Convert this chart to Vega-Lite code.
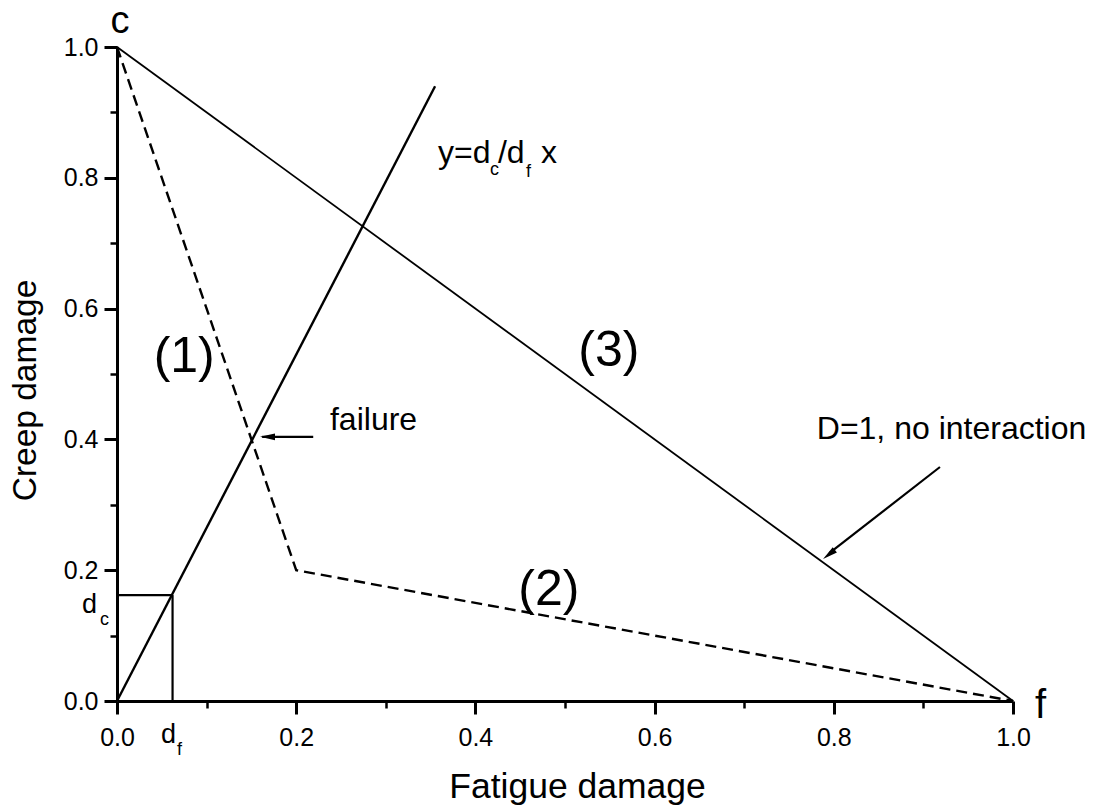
{
  "$schema": "https://vega.github.io/schema/vega-lite/v6.json",
  "width": 896,
  "height": 654,
  "autosize": {"type": "none"},
  "padding": {"left": 117, "top": 47, "right": 82, "bottom": 104},
  "background": "white",
  "config": {
    "view": {"stroke": null},
    "font": "Liberation Sans",
    "axis": {
      "grid": false,
      "domainColor": "black",
      "domainWidth": 3,
      "tickColor": "black",
      "tickWidth": 2.5,
      "labelColor": "black",
      "labelFont": "Liberation Sans",
      "labelFontSize": 25,
      "labelFlush": false,
      "labelOverlap": false,
      "titleColor": "black",
      "titleFont": "Liberation Sans",
      "titleFontSize": 34,
      "titleFontWeight": "normal"
    }
  },
  "resolve": {"axis": {"x": "independent", "y": "independent"}},
  "layer": [
    {
      "encoding": {
        "x": {
          "field": "x",
          "type": "quantitative",
          "scale": {"domain": [0, 1], "nice": false, "zero": false},
          "axis": {
            "title": "Fatigue damage",
            "orient": "bottom",
            "values": [0, 0.2, 0.4, 0.6, 0.8, 1.0],
            "format": ".1f",
            "ticks": false,
            "tickSize": 0,
            "labelPadding": 24,
            "titleFontSize": 35.5,
            "titleBaseline": "alphabetic",
            "titleX": 460,
            "titleY": 96
          }
        },
        "y": {
          "field": "y",
          "type": "quantitative",
          "scale": {"domain": [0, 1], "nice": false, "zero": false},
          "axis": {
            "title": "Creep damage",
            "orient": "left",
            "values": [0, 0.2, 0.4, 0.6, 0.8, 1.0],
            "format": ".1f",
            "ticks": false,
            "tickSize": 0,
            "labelPadding": 19,
            "titleFontSize": 33.5,
            "titleBaseline": "alphabetic",
            "titleX": -82,
            "titleY": 343
          }
        }
      },
      "layer": [
        {
          "description": "Linear damage rule D = 1 (no interaction)",
          "data": {"values": [{"x": 0, "y": 1, "x2": 1, "y2": 0}]},
          "mark": {"type": "rule", "color": "black", "strokeWidth": 1.8},
          "encoding": {"x2": {"field": "x2"}, "y2": {"field": "y2"}}
        },
        {
          "description": "Bilinear interaction envelope",
          "data": {"values": [{"x": 0, "y": 1}, {"x": 0.2, "y": 0.2}, {"x": 1, "y": 0}]},
          "mark": {"type": "line", "color": "black", "strokeWidth": 2.4, "strokeDash": [11, 6]},
          "encoding": {}
        },
        {
          "description": "Loading path y = dc/df x",
          "data": {"values": [{"x": 0, "y": 0, "x2": 0.355, "y2": 0.94}]},
          "mark": {"type": "rule", "color": "black", "strokeWidth": 2.4},
          "encoding": {"x2": {"field": "x2"}, "y2": {"field": "y2"}}
        },
        {
          "description": "Damage per cycle box (df, dc)",
          "data": {"values": [
            {"x": 0, "y": 0.162, "x2": 0.062, "y2": 0.162},
            {"x": 0.062, "y": 0, "x2": 0.062, "y2": 0.162}
          ]},
          "mark": {"type": "rule", "color": "black", "strokeWidth": 2.2},
          "encoding": {"x2": {"field": "x2"}, "y2": {"field": "y2"}}
        },
        {
          "description": "Arrow shafts",
          "data": {"values": [
            {"x": 0.219, "y": 0.404, "x2": 0.162, "y2": 0.404},
            {"x": 0.9185, "y": 0.3578, "x2": 0.795, "y2": 0.226}
          ]},
          "mark": {"type": "rule", "color": "black", "strokeWidth": 2.2},
          "encoding": {"x2": {"field": "x2"}, "y2": {"field": "y2"}}
        },
        {
          "description": "Arrowhead at the failure point",
          "data": {"values": [{"x": 0.1596, "y": 0.404}]},
          "mark": {"type": "point", "shape": "M0,0L0.45,2L-0.45,2Z", "filled": true, "color": "black", "opacity": 1, "size": 225, "angle": 270},
          "encoding": {}
        },
        {
          "description": "Arrowhead on the D = 1 line",
          "data": {"values": [{"x": 0.788, "y": 0.217}]},
          "mark": {"type": "point", "shape": "M0,0L0.45,2L-0.45,2Z", "filled": true, "color": "black", "opacity": 1, "size": 225, "angle": 231.8},
          "encoding": {}
        },
        {
          "description": "Annotations",
          "data": {"values": [
            {"x": 0.2377, "y": 0.4144, "label": "failure"},
            {"x": 0.781, "y": 0.4006, "label": "D=1, no interaction"},
            {"x": 0.3583, "y": 0.8226, "label": "y=d"},
            {"x": 0.4252, "y": 0.8226, "label": "/d"},
            {"x": 0.4732, "y": 0.8226, "label": "x"}
          ]},
          "mark": {"type": "text", "align": "left", "baseline": "alphabetic", "fontSize": 32, "font": "Liberation Sans", "color": "black"},
          "encoding": {"text": {"field": "label"}}
        },
        {
          "description": "Subscripts in the slope label",
          "data": {"values": [
            {"x": 0.4163, "y": 0.8043, "label": "c"},
            {"x": 0.4565, "y": 0.8012, "label": "f"}
          ]},
          "mark": {"type": "text", "align": "left", "baseline": "alphabetic", "fontSize": 18, "font": "Liberation Sans", "color": "black"},
          "encoding": {"text": {"field": "label"}}
        },
        {
          "description": "dc and df markers on the axes",
          "data": {"values": [
            {"x": -0.039, "y": 0.1346, "label": "d"},
            {"x": 0.049, "y": -0.0642, "label": "d"}
          ]},
          "mark": {"type": "text", "align": "left", "baseline": "alphabetic", "fontSize": 27, "font": "Liberation Sans", "color": "black"},
          "encoding": {"text": {"field": "label"}}
        },
        {
          "description": "Subscripts of the axis markers",
          "data": {"values": [
            {"x": -0.019, "y": 0.1162, "label": "c"},
            {"x": 0.067, "y": -0.0826, "label": "f"}
          ]},
          "mark": {"type": "text", "align": "left", "baseline": "alphabetic", "fontSize": 18, "font": "Liberation Sans", "color": "black"},
          "encoding": {"text": {"field": "label"}}
        },
        {
          "description": "Region labels",
          "data": {"values": [
            {"x": 0.075, "y": 0.526, "label": "(1)"},
            {"x": 0.482, "y": 0.17, "label": "(2)"},
            {"x": 0.549, "y": 0.535, "label": "(3)"}
          ]},
          "mark": {"type": "text", "align": "center", "baseline": "middle", "fontSize": 50, "font": "Liberation Sans", "color": "black"},
          "encoding": {"text": {"field": "label"}}
        },
        {
          "description": "Pure creep end point",
          "data": {"values": [{"x": 0.0033, "y": 1.0214, "label": "c"}]},
          "mark": {"type": "text", "align": "center", "baseline": "alphabetic", "fontSize": 38, "font": "Liberation Sans", "color": "black"},
          "encoding": {"text": {"field": "label"}}
        },
        {
          "description": "Pure fatigue end point",
          "data": {"values": [{"x": 1.0246, "y": -0.026, "label": "f"}]},
          "mark": {"type": "text", "align": "left", "baseline": "alphabetic", "fontSize": 40, "font": "Liberation Sans", "color": "black"},
          "encoding": {"text": {"field": "label"}}
        }
      ]
    },
    {
      "description": "Major ticks at 0.2 steps on both axes",
      "data": {"values": [{"x": 0, "y": 0}]},
      "mark": {"type": "point", "opacity": 0},
      "encoding": {
        "x": {
          "field": "x",
          "type": "quantitative",
          "scale": {"domain": [0, 1], "nice": false, "zero": false},
          "axis": {"orient": "bottom", "title": null, "labels": false, "domain": false, "ticks": true, "tickSize": 13, "tickWidth": 3, "values": [0, 0.2, 0.4, 0.6, 0.8, 1.0]}
        },
        "y": {
          "field": "y",
          "type": "quantitative",
          "scale": {"domain": [0, 1], "nice": false, "zero": false},
          "axis": {"orient": "left", "title": null, "labels": false, "domain": false, "ticks": true, "tickSize": 13, "tickWidth": 3, "values": [0, 0.2, 0.4, 0.6, 0.8, 1.0]}
        }
      }
    },
    {
      "description": "Minor ticks at 0.1 steps on both axes",
      "data": {"values": [{"x": 0, "y": 0}]},
      "mark": {"type": "point", "opacity": 0},
      "encoding": {
        "x": {
          "field": "x",
          "type": "quantitative",
          "scale": {"domain": [0, 1], "nice": false, "zero": false},
          "axis": {"orient": "bottom", "title": null, "labels": false, "domain": false, "ticks": true, "tickSize": 7, "values": [0.1, 0.3, 0.5, 0.7, 0.9]}
        },
        "y": {
          "field": "y",
          "type": "quantitative",
          "scale": {"domain": [0, 1], "nice": false, "zero": false},
          "axis": {"orient": "left", "title": null, "labels": false, "domain": false, "ticks": true, "tickSize": 7, "values": [0.1, 0.3, 0.5, 0.7, 0.9]}
        }
      }
    }
  ]
}
